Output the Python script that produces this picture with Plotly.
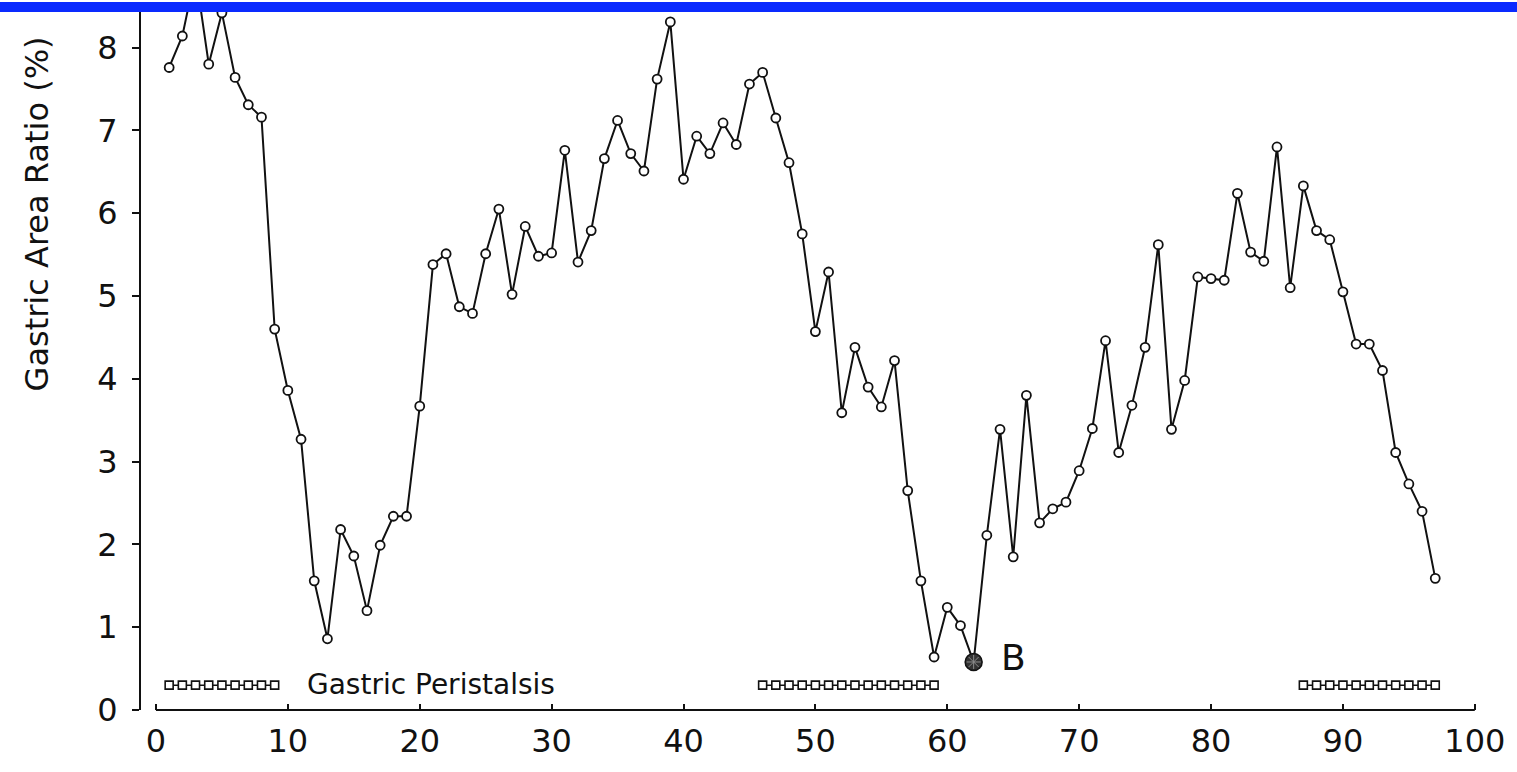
import plotly.graph_objects as go

# Gastric area ratio sampled at each time step
time_points = list(range(1, 98))
area_ratio = [
    7.76, 8.14, 8.90, 7.80, 8.42, 7.64, 7.31, 7.16, 4.60, 3.86,
    3.27, 1.56, 0.86, 2.18, 1.86, 1.20, 1.99, 2.34, 2.34, 3.67,
    5.38, 5.51, 4.87, 4.79, 5.51, 6.05, 5.02, 5.84, 5.48, 5.52,
    6.76, 5.41, 5.79, 6.66, 7.12, 6.72, 6.51, 7.62, 8.31, 6.41,
    6.93, 6.72, 7.09, 6.83, 7.56, 7.70, 7.15, 6.61, 5.75, 4.57,
    5.29, 3.59, 4.38, 3.90, 3.66, 4.22, 2.65, 1.56, 0.64, 1.24,
    1.02, 0.58, 2.11, 3.39, 1.85, 3.80, 2.26, 2.43, 2.51, 2.89,
    3.40, 4.46, 3.11, 3.68, 4.38, 5.62, 3.39, 3.98, 5.23, 5.21,
    5.19, 6.24, 5.53, 5.42, 6.80, 5.10, 6.33, 5.79, 5.68, 5.05,
    4.42, 4.42, 4.10, 3.11, 2.73, 2.40, 1.59,
]

# Time point highlighted as "B"
b_time = 62
b_label = "B"

# Periods with gastric peristalsis (first and last time step of each run)
peristalsis_runs = [(1, 9), (46, 59), (87, 97)]
peristalsis_level = 0.3
peristalsis_label = "Gastric Peristalsis"

x_ticks = [0, 10, 20, 30, 40, 50, 60, 70, 80, 90, 100]
y_ticks = [0, 1, 2, 3, 4, 5, 6, 7, 8]
y_title = "Gastric Area Ratio (%)"

FONT = "DejaVu Sans"
INK = "#111111"

fig = go.Figure()

fig.add_trace(go.Scatter(
    x=time_points, y=area_ratio, mode="lines+markers",
    line=dict(color=INK, width=2),
    marker=dict(symbol="circle", size=9, color="white",
                line=dict(color=INK, width=1.8)),
    showlegend=False, hoverinfo="x+y",
))

# Peristalsis bars drawn as chains of small open squares
for start, end in peristalsis_runs:
    xs = list(range(start, end + 1))
    fig.add_trace(go.Scatter(
        x=xs, y=[peristalsis_level] * len(xs), mode="lines+markers",
        line=dict(color=INK, width=1.5),
        marker=dict(symbol="square", size=8, color="white",
                    line=dict(color=INK, width=1.6)),
        showlegend=False, hoverinfo="skip",
    ))

# Highlighted point B: dark disc with a light cross-hatch
b_value = area_ratio[time_points.index(b_time)]
fig.add_trace(go.Scatter(
    x=[b_time], y=[b_value], mode="markers",
    marker=dict(symbol="circle", size=17, color="#333333",
                line=dict(color=INK, width=1.5)),
    showlegend=False, hoverinfo="x+y",
))
for sym in ("x-thin-open", "cross-thin-open"):
    fig.add_trace(go.Scatter(
        x=[b_time], y=[b_value], mode="markers",
        marker=dict(symbol=sym, size=10, color="#8a8a8a",
                    line=dict(color="#8a8a8a", width=1)),
        showlegend=False, hoverinfo="skip",
    ))

W, H = 1517, 772
ML, MR, MT, MB = 141, 27, 12, 56

fig.update_layout(
    width=W, height=H,
    margin=dict(l=ML, r=MR, t=MT, b=MB, pad=0),
    paper_bgcolor="white", plot_bgcolor="white",
    font=dict(family=FONT, color=INK, size=31),
    xaxis=dict(
        range=[-1.135, 101], tickvals=x_ticks,
        showline=False, showgrid=False, zeroline=False,
        ticks="inside", ticklen=6, tickwidth=2, tickcolor=INK,
        tickfont=dict(family=FONT, size=32, color=INK),
        ticklabelstandoff=9,
    ),
    yaxis=dict(
        range=[0, 8.43], tickvals=y_ticks,
        showline=True, linecolor=INK, linewidth=2,
        showgrid=False, zeroline=False,
        ticks="outside", ticklen=7, tickwidth=2, tickcolor=INK,
        tickfont=dict(family=FONT, size=32, color=INK),
        ticklabelstandoff=8,
    ),
    shapes=[
        # x axis baseline spanning 0..100
        dict(type="line", xref="x", yref="paper",
             x0=x_ticks[0], x1=x_ticks[-1], y0=0, y1=0,
             line=dict(color=INK, width=2)),
        # blue banner along the top edge
        dict(type="rect", xref="paper", yref="paper",
             x0=-0.2, x1=1.2, y0=1.0, y1=1 + 10 / (H - MT - MB),
             fillcolor="rgb(10,42,255)", line=dict(width=0), layer="above"),
    ],
    annotations=[
        dict(text=y_title, xref="paper", yref="paper",
             x=(37 - ML) / (W - ML - MR), y=(716 - 216) / (H - MT - MB),
             textangle=-90, showarrow=False, xanchor="center", yanchor="middle",
             font=dict(family=FONT, size=32, color=INK)),
        dict(text=peristalsis_label, xref="x", yref="y",
             x=11.3, y=0.31, showarrow=False, xanchor="left", yanchor="middle",
             font=dict(family=FONT, size=28, color=INK)),
        dict(text=b_label, xref="x", yref="y",
             x=65.0, y=0.63, showarrow=False, xanchor="center", yanchor="middle",
             font=dict(family=FONT, size=36, color=INK)),
    ],
)

fig.write_html("out.html")
